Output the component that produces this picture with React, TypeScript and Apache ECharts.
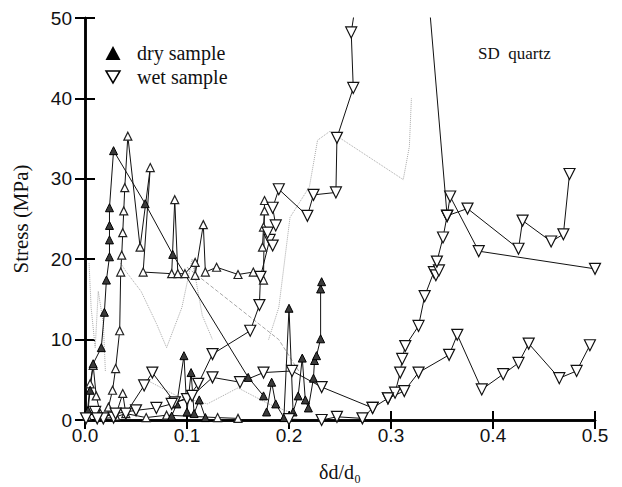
import React, { useEffect, useRef } from "react";
import * as echarts from "echarts";

// ---- data: [δd/d0, stress MPa] ----
const dryA = [[0.003,1.2],[0.005,3.7],[0.008,7.0],[0.016,9.0],[0.019,13.4],[0.021,17.4],[0.024,20.3],[0.024,22.4],[0.024,24.2],[0.024,26.4],[0.028,33.5],[0.059,26.9],[0.086,20.6],[0.160,5.3],[0.175,3.0]];
const dryB = [[0.023,1.6],[0.027,3.7],[0.030,6.4],[0.034,11.1],[0.035,18.4],[0.036,20.5],[0.037,23.3],[0.038,26.0],[0.039,28.9],[0.042,35.3],[0.054,21.5],[0.064,31.4],[0.057,18.4],[0.085,18.2],[0.088,27.4],[0.091,18.2],[0.098,18.2],[0.108,19.6],[0.108,18.0],[0.116,24.3],[0.118,18.4],[0.129,19.0],[0.150,18.1],[0.165,18.4],[0.175,17.4],[0.176,27.3],[0.176,26.0],[0.175,24.0],[0.174,21.5]];
const dryC = [[0.178,1.0],[0.183,4.7],[0.187,2.0],[0.195,0.3],[0.200,13.9],[0.204,1.0],[0.209,3.0],[0.213,7.7],[0.216,2.5],[0.219,1.5],[0.224,5.2],[0.225,7.4],[0.227,8.0],[0.231,10.1],[0.231,16.3],[0.232,17.2]];
const dryD = [[0.085,0.5],[0.090,2.0],[0.097,8.0],[0.100,1.0],[0.104,5.9],[0.107,0.8],[0.112,2.5],[0.118,0.3]];
const dryE = [[0.002,0.5],[0.005,4.5],[0.008,6.8],[0.011,3.0],[0.015,0.8],[0.030,0.5],[0.037,3.3],[0.040,0.8],[0.060,0.3],[0.080,0.6],[0.130,0.3],[0.150,0.2]];

const wetA = [[0.001,0.2],[0.010,1.0],[0.018,0.2],[0.028,0.3],[0.040,0.8],[0.058,4.3],[0.066,5.9],[0.088,2.2],[0.100,2.6],[0.111,4.5],[0.125,8.2],[0.162,11.1],[0.171,14.3],[0.172,17.8],[0.181,22.4],[0.184,21.7],[0.179,23.3],[0.187,24.2],[0.184,26.4],[0.190,28.7],[0.218,25.4],[0.224,28.0],[0.246,28.3],[0.247,35.1],[0.263,41.3],[0.261,48.2],[0.268,54]];
const wetB = [[0.012,0.2],[0.030,0.8],[0.050,1.2],[0.070,1.5],[0.085,2.0],[0.105,3.0],[0.125,5.3],[0.152,4.7],[0.175,5.9],[0.203,6.1],[0.232,4.1],[0.282,1.5],[0.297,2.7],[0.304,3.4],[0.309,5.9],[0.311,7.6],[0.314,9.2],[0.327,11.7],[0.333,15.4],[0.342,18.4],[0.344,18.0],[0.347,18.6],[0.345,19.7],[0.351,22.7],[0.355,25.4],[0.336,54]];
const wetC = [[0.355,25.4],[0.358,27.8],[0.386,21.0],[0.500,18.8]];
const wetD = [[0.355,25.4],[0.375,26.3],[0.425,21.3],[0.429,24.8],[0.457,22.2],[0.469,23.1],[0.475,30.6]];
const wetE = [[0.297,2.7],[0.313,3.6],[0.327,5.9],[0.357,8.1],[0.365,10.6],[0.389,3.8],[0.410,5.7],[0.425,7.1],[0.435,9.5],[0.465,5.2],[0.482,6.1],[0.495,9.3]];
const wetF = [[0.200,0.1],[0.232,0.0],[0.247,0.4],[0.272,0.2],[0.282,1.5]];

const grayA = [[0.004,19.5],[0.006,14],[0.010,9],[0.013,16],[0.018,12],[0.020,6]];
const grayB = [[0.035,19.5],[0.040,18.5],[0.055,16],[0.070,12],[0.080,9],[0.095,14],[0.105,20],[0.115,13],[0.125,10]];
const grayC = [[0.100,19],[0.130,16],[0.160,13],[0.190,10],[0.200,8],[0.210,6]];
const grayD = [[0.180,10],[0.190,14],[0.201,25.2],[0.210,27],[0.220,29],[0.228,34.8],[0.240,35.9],[0.312,29.9],[0.318,34],[0.320,40]];
const grayE = [[0.060,5],[0.090,3],[0.120,2],[0.150,4],[0.180,2],[0.200,1]];

const xTicks = [0, 0.1, 0.2, 0.3, 0.4, 0.5];
const yTicks = [0, 10, 20, 30, 40, 50];

type Kind = "dryFill" | "dryOpen" | "wet" | "gray";

function mk(data: number[][], kind: Kind, dash?: string) {
  const base: any = {
    type: "line",
    data,
    clip: true,
    lineStyle: { color: "#111", width: 1 },
    z: 3,
  };
  if (kind === "dryFill") {
    base.symbol = "triangle";
    base.symbolSize = 8;
    base.itemStyle = { color: "#3a3a3a", borderColor: "#000", borderWidth: 1 };
  } else if (kind === "dryOpen") {
    base.symbol = "triangle";
    base.symbolSize = 8;
    base.itemStyle = { color: "#fff", borderColor: "#222", borderWidth: 1.2 };
  } else if (kind === "wet") {
    base.symbol = "triangle";
    base.symbolRotate = 180;
    base.symbolSize = 11;
    base.itemStyle = { color: "#fff", borderColor: "#111", borderWidth: 1.2 };
  } else {
    base.symbol = "none";
    base.lineStyle = { color: "#a8a8a8", width: 1, type: dash || "dotted" };
    base.z = 2;
  }
  return base;
}

export default function App() {
  const ref = useRef<HTMLDivElement>(null);
  useEffect(() => {
    if (!ref.current) return;
    const chart = echarts.init(ref.current, undefined, { renderer: "svg" });
    const axisLine = { show: true, lineStyle: { color: "#000", width: 2.5 } };
    const labelFont = { fontFamily: "Liberation Sans, Arial, sans-serif", fontSize: 19, color: "#111" };
    chart.setOption({
      animation: false,
      backgroundColor: "#fff",
      grid: { left: 85, top: 18, width: 510, height: 407, containLabel: false },
      xAxis: [
        {
          type: "value", min: xTicks[0], max: xTicks[xTicks.length - 1], interval: 0.1,
          axisLine, splitLine: { show: false },
          axisTick: { show: true, inside: true, length: 9, lineStyle: { color: "#000", width: 2 } },
          axisLabel: { ...labelFont, margin: 6, formatter: (v: number) => v.toFixed(1) },
          name: "δd/d₀", nameLocation: "middle", nameGap: 42,
          nameTextStyle: { fontFamily: "Liberation Serif, Times New Roman, serif", fontSize: 20, color: "#111" },
        },
        {
          type: "value", position: "top", min: 0, max: 0.5, interval: 0.1,
          axisLine, splitLine: { show: false },
          axisTick: { show: true, inside: true, length: 9, lineStyle: { color: "#000", width: 2 } },
          axisLabel: { show: false },
        },
      ],
      yAxis: [
        {
          type: "value", min: yTicks[0], max: yTicks[yTicks.length - 1], interval: 10,
          axisLine, splitLine: { show: false },
          axisTick: { show: true, inside: true, length: 10, lineStyle: { color: "#000", width: 2 } },
          axisLabel: { ...labelFont, margin: 13 },
          name: "Stress (MPa)", nameLocation: "middle", nameGap: 54,
          nameTextStyle: { fontFamily: "Liberation Serif, Times New Roman, serif", fontSize: 21, color: "#111" },
        },
        {
          type: "value", position: "right", min: 0, max: 50, interval: 10,
          axisLine, splitLine: { show: false },
          axisTick: { show: true, inside: true, length: 10, lineStyle: { color: "#000", width: 2 } },
          axisLabel: { show: false },
        },
      ],
      series: [
        mk(grayA, "gray"),
        mk(grayB, "gray"),
        mk(grayC, "gray", "dashed"),
        mk(grayD, "gray"),
        mk(grayE, "gray"),
        mk(dryE, "dryOpen"),
        mk(dryB, "dryOpen"),
        mk(dryD, "dryFill"),
        mk(dryC, "dryFill"),
        mk(dryA, "dryFill"),
        mk(wetF, "wet"),
        mk(wetA, "wet"),
        mk(wetB, "wet"),
        mk(wetC, "wet"),
        mk(wetD, "wet"),
        mk(wetE, "wet"),
      ],
      graphic: [
        { type: "polygon", shape: { points: [[113, 46], [105.5, 60], [120.5, 60]] }, style: { fill: "#000" }, z: 10 },
        { type: "text", x: 137, y: 53, style: { text: "dry sample", font: "20px 'Liberation Serif', serif", fill: "#111", verticalAlign: "middle" }, z: 10 },
        { type: "polygon", shape: { points: [[106, 71], [120, 71], [113, 83]] }, style: { fill: "#fff", stroke: "#000", lineWidth: 1.5 }, z: 10 },
        { type: "text", x: 137, y: 77, style: { text: "wet sample", font: "20px 'Liberation Serif', serif", fill: "#111", verticalAlign: "middle" }, z: 10 },
        { type: "text", x: 478, y: 53, style: { text: "SD  quartz", font: "17px 'Liberation Serif', serif", fill: "#111", verticalAlign: "middle" }, z: 10 },
      ],
    });
    return () => chart.dispose();
  }, []);
  return <div ref={ref} style={{ position: "fixed", left: 0, top: 0, width: 622, height: 487 }} />;
}
